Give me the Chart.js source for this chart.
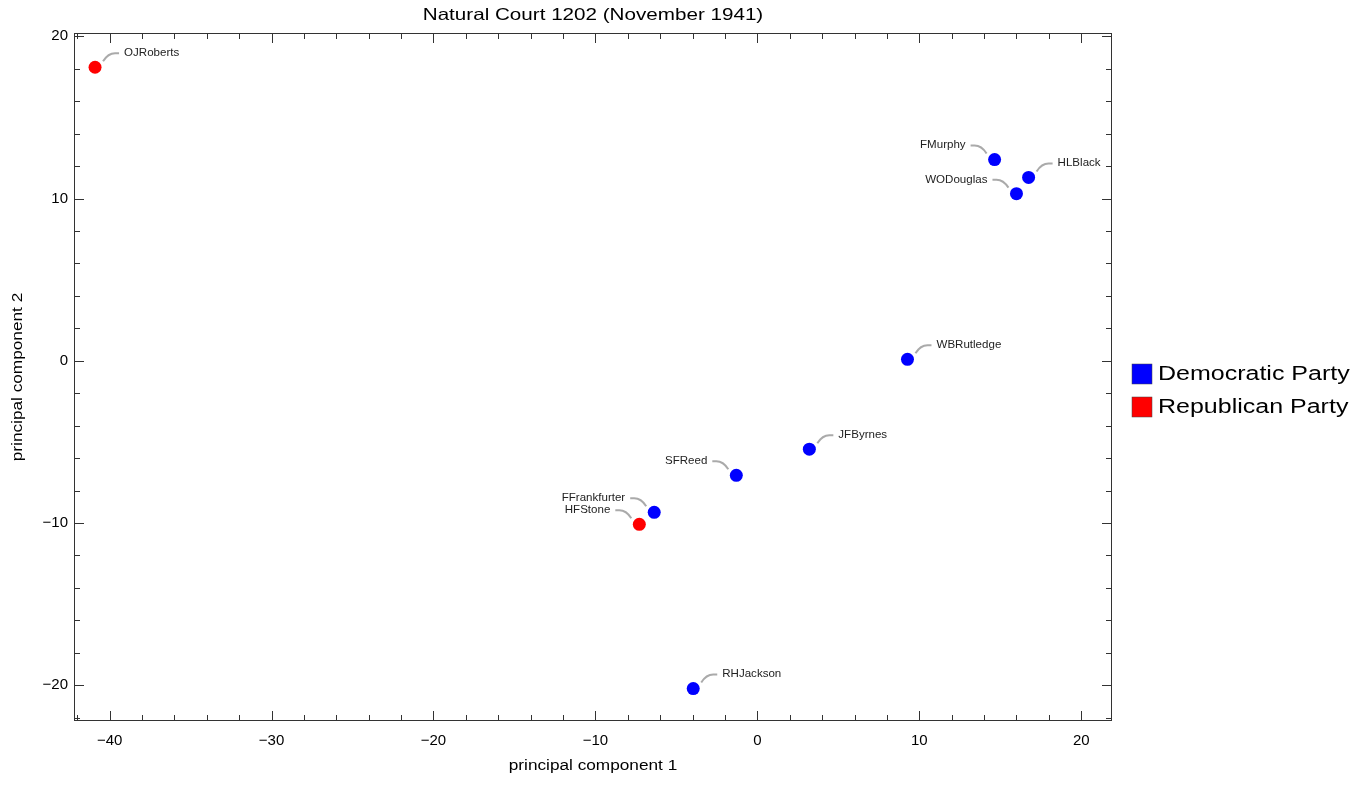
<!DOCTYPE html>
<html lang="en">
<head>
    <meta charset="UTF-8">
    <title>Natural Court 1202</title>
    <script src="https://cdn.jsdelivr.net/npm/chart.js@4.4.1/dist/chart.umd.min.js"></script>
    <style>
        html, body { margin: 0; padding: 0; background: #fff; overflow: hidden; }
        #wrap { width: 1352px; height: 788px; }
    </style>
</head>
<body>
    <div id="wrap"><canvas id="myChart"></canvas></div>

    <script>
        // justices, principal components
        var justices = ['OJRoberts', 'FMurphy', 'HLBlack', 'WODouglas', 'WBRutledge', 'JFByrnes', 'SFReed', 'FFrankfurter', 'HFStone', 'RHJackson'];
        var pc1 = [-40.9, 14.65, 16.75, 16.0, 9.27, 3.21, -1.3, -6.37, -7.29, -3.96];
        var pc2 = [18.09, 12.4, 11.3, 10.3, 0.09, -5.45, -7.06, -9.34, -10.08, -20.2];
        var party = ['R', 'D', 'D', 'D', 'D', 'D', 'D', 'D', 'R', 'D'];
        // which side the label sits on
        var labelSide = ['r', 'l', 'r', 'l', 'r', 'r', 'l', 'l', 'l', 'r'];

        var xTicks = [-40, -30, -20, -10, 0, 10, 20];
        var yTicks = [-20, -10, 0, 10, 20];
        var xMinor = [-42, -38, -36, -34, -32, -28, -26, -24, -22, -18, -16, -14, -12, -8, -6, -4, -2, 2, 4, 6, 8, 12, 14, 16, 18];
        var yMinor = [-22, -18, -16, -14, -12, -8, -6, -4, -2, 2, 4, 6, 8, 12, 14, 16, 18];

        var partyNames = { D: 'Democratic Party', R: 'Republican Party' };
        var partyColors = { D: '#0000ff', R: '#ff0000' };

        function f_points(p) {
            var pts = [];
            for (var i = 0; i < justices.length; i++) {
                if (party[i] == p) pts.push({ x: pc1[i], y: pc2[i], name: justices[i], side: labelSide[i] });
            }
            return pts;
        }

        function f_minus(v) {
            return String(v).replace('-', '\u2212');
        }

        var FONT = '"Liberation Sans", Arial, sans-serif';

        // text a bit wider than plain Arial, like the original
        function f_text(c, str, x, y, align, sx) {
            c.save();
            c.translate(x, y);
            c.scale(sx, 1);
            c.textAlign = align;
            c.fillText(str, 0, 0);
            c.restore();
        }

        // frame, inward ticks, labels with callouts, title, legend
        var decor = {
            id: 'decor',
            afterDraw: function (chart) {
                var c = chart.ctx;
                var a = chart.chartArea;
                var xs = chart.scales.x, ys = chart.scales.y;
                c.save();
                c.strokeStyle = '#333';
                c.lineWidth = 1;
                c.strokeRect(a.left + 0.5, a.top + 0.5, a.right - a.left - 1, a.bottom - a.top - 1);

                c.beginPath();
                function xt(v, len) {
                    var px = Math.round(xs.getPixelForValue(v)) + 0.5;
                    c.moveTo(px, a.bottom); c.lineTo(px, a.bottom - len);
                    c.moveTo(px, a.top); c.lineTo(px, a.top + len);
                }
                function yt(v, len) {
                    var py = Math.round(ys.getPixelForValue(v)) + 0.5;
                    c.moveTo(a.left, py); c.lineTo(a.left + len, py);
                    c.moveTo(a.right, py); c.lineTo(a.right - len, py);
                }
                xTicks.forEach(function (v) { xt(v, 10); });
                xMinor.forEach(function (v) { xt(v, 6); });
                yTicks.forEach(function (v) { yt(v, 10); });
                yMinor.forEach(function (v) { yt(v, 6); });
                c.stroke();

                // point labels
                c.font = '10.5px ' + FONT;
                c.textBaseline = 'middle';
                chart.data.datasets.forEach(function (ds, di) {
                    var meta = chart.getDatasetMeta(di);
                    meta.data.forEach(function (el, i) {
                        var pt = ds.data[i];
                        var px = el.x, py = el.y;
                        var s = pt.side == 'r' ? 1 : -1;
                        c.strokeStyle = '#aaaaaa';
                        c.lineWidth = 2;
                        c.beginPath();
                        c.moveTo(px + s * 8, py - 6);
                        c.quadraticCurveTo(px + s * 13, py - 14, px + s * 20, py - 14);
                        c.lineTo(px + s * 24, py - 14);
                        c.stroke();
                        c.fillStyle = '#222';
                        f_text(c, pt.name, px + s * 29, py - 14, s > 0 ? 'left' : 'right', 1.1);
                    });
                });

                // title
                c.fillStyle = '#000';
                c.textBaseline = 'middle';
                c.font = '16.5px ' + FONT;
                f_text(c, 'Natural Court 1202 (November 1941)', (a.left + a.right) / 2, 15, 'center', 1.25);

                // axis titles
                c.font = '14px ' + FONT;
                f_text(c, 'principal component 1', (a.left + a.right) / 2, 766, 'center', 1.23);
                c.save();
                c.translate(18, (a.top + a.bottom) / 2);
                c.rotate(-Math.PI / 2);
                f_text(c, 'principal component 2', 0, 0, 'center', 1.23);
                c.restore();

                // legend
                c.font = '20px ' + FONT;
                ['D', 'R'].forEach(function (p, k) {
                    var y0 = 364 + k * 33;
                    c.fillStyle = partyColors[p];
                    c.fillRect(1132, y0, 20, 20);
                    c.strokeStyle = '#444';
                    c.lineWidth = 0.5;
                    c.strokeRect(1132, y0, 20, 20);
                    c.fillStyle = '#000';
                    f_text(c, partyNames[p], 1158, y0 + 10, 'left', 1.25);
                });
                c.restore();
            }
        };

        const ctx = document.getElementById('myChart').getContext('2d');
        const myChart = new Chart(ctx, {
            type: 'scatter',
            data: {
                datasets: [{
                    label: partyNames.D,
                    data: f_points('D'),
                    backgroundColor: partyColors.D,
                    borderColor: partyColors.D,
                    pointRadius: 6.5,
                    pointBorderWidth: 0
                }, {
                    label: partyNames.R,
                    data: f_points('R'),
                    backgroundColor: partyColors.R,
                    borderColor: partyColors.R,
                    pointRadius: 6.5,
                    pointBorderWidth: 0
                }]
            },
            options: {
                responsive: true,
                maintainAspectRatio: false,
                animation: false,
                layout: { padding: { top: 33, right: 240, left: 0, bottom: 0 } },
                plugins: {
                    legend: { display: false },
                    tooltip: { enabled: false },
                    title: { display: false }
                },
                scales: {
                    x: {
                        type: 'linear',
                        min: -42.2,
                        max: 21.9,
                        grid: { display: false, drawTicks: false },
                        border: { display: false },
                        afterBuildTicks: function (s) { s.ticks = xTicks.map(function (v) { return { value: v }; }); },
                        afterFit: function (s) { s.height = 67; },
                        ticks: {
                            padding: 11,
                            maxRotation: 0,
                            autoSkip: false,
                            color: '#000',
                            font: { family: FONT, size: 15 },
                            callback: function (v) { return f_minus(v); }
                        }
                    },
                    y: {
                        type: 'linear',
                        min: -22.2,
                        max: 20.2,
                        grid: { display: false, drawTicks: false },
                        border: { display: false },
                        afterBuildTicks: function (s) { s.ticks = yTicks.map(function (v) { return { value: v }; }); },
                        afterFit: function (s) { s.width = 74; },
                        ticks: {
                            padding: 6,
                            autoSkip: false,
                            color: '#000',
                            font: { family: FONT, size: 15 },
                            callback: function (v) { return f_minus(v); }
                        }
                    }
                }
            },
            plugins: [decor]
        });
    </script>
</body>
</html>
